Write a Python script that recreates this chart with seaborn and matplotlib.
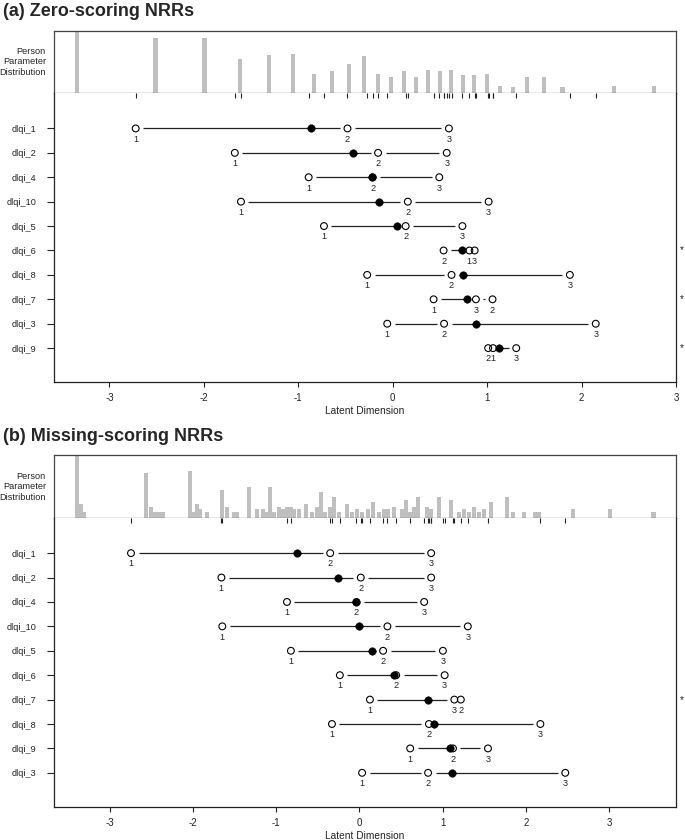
import numpy as np
import pandas as pd
import matplotlib
matplotlib.use("Agg")
import matplotlib.pyplot as plt
import seaborn as sns

sns.set_theme(style="white")
plt.rcParams['font.family'] = ['Liberation Sans', 'DejaVu Sans']

# ---------------- data: (a) zero-scoring ----------------
items_a = ['dlqi_1', 'dlqi_2', 'dlqi_4', 'dlqi_10', 'dlqi_5', 'dlqi_6', 'dlqi_8', 'dlqi_7', 'dlqi_3', 'dlqi_9']
thr1_a = [-2.722, -1.672, -0.890, -1.607, -0.728, 0.812, -0.270, 0.433, -0.058, 1.062]
thr2_a = [-0.479, -0.155, -0.212, 0.160, 0.137, 0.539, 0.623, 1.057, 0.544, 1.011]
thr3_a = [0.595, 0.572, 0.493, 1.016, 0.738, 0.868, 1.876, 0.881, 2.150, 1.308]
loc_a = [-0.869, -0.418, -0.218, -0.144, 0.049, 0.733, 0.743, 0.790, 0.879, 1.127]
disordered_a = ['dlqi_6', 'dlqi_7', 'dlqi_9']

hist_x_a = [-3.344, -2.512, -1.993, -1.612, -1.308, -1.054, -0.834, -0.641, -0.468, -0.309,
            -0.157, -0.019, 0.119, 0.249, 0.373, 0.496, 0.620, 0.743, 0.866, 0.998,
            1.131, 1.273, 1.427, 1.601, 1.798, 2.342, 2.766]
hist_n_a = [51, 45, 45, 28, 31, 32, 16, 18, 24, 30,
            16, 13, 18, 13, 19, 18, 19, 15, 15, 16,
            6, 5, 13, 13, 5, 6, 6]

# ---------------- data: (b) missing-scoring ----------------
items_b = ['dlqi_1', 'dlqi_2', 'dlqi_4', 'dlqi_10', 'dlqi_5', 'dlqi_6', 'dlqi_7', 'dlqi_8', 'dlqi_9', 'dlqi_3']
thr1_b = [-2.742, -1.657, -0.870, -1.646, -0.823, -0.235, 0.126, -0.330, 0.609, 0.032]
thr2_b = [-0.351, 0.016, -0.036, 0.336, 0.284, 0.441, 1.217, 0.834, 1.123, 0.824]
thr3_b = [0.861, 0.861, 0.777, 1.301, 1.002, 1.023, 1.139, 2.172, 1.543, 2.471]
loc_b = [-0.744, -0.262, -0.040, 0.000, 0.153, 0.415, 0.824, 0.892, 1.091, 1.107]
disordered_b = ['dlqi_7']

hist_x_b = [-3.39, -3.34, -3.31, -2.56, -2.50, -2.46, -2.41, -2.36, -2.035, -2.00,
            -1.955, -1.915, -1.83, -1.645, -1.59, -1.51, -1.47, -1.33, -1.23, -1.16,
            -1.12, -1.075, -1.02, -0.96, -0.915, -0.87, -0.82, -0.785, -0.72, -0.64,
            -0.57, -0.51, -0.46, -0.41, -0.355, -0.30, -0.245, -0.145, -0.085, -0.03,
            0.025, 0.105, 0.16, 0.24, 0.295, 0.34, 0.415, 0.51, 0.56, 0.61,
            0.655, 0.70, 0.81, 0.855, 0.96, 1.105, 1.19, 1.25, 1.315, 1.375,
            1.44, 1.49, 1.58, 1.77, 1.84, 1.98, 2.11, 2.155, 2.56, 3.005, 3.53]
hist_n_b = [51, 11, 5, 37, 9, 5, 5, 5, 38, 5,
            11, 7, 5, 23, 9, 5, 5, 25, 7, 7,
            5, 25, 5, 9, 7, 9, 9, 7, 7, 11,
            5, 9, 21, 5, 9, 17, 5, 11, 5, 7,
            5, 7, 13, 5, 7, 7, 9, 7, 15, 5,
            9, 17, 9, 7, 17, 15, 5, 7, 5, 9,
            5, 7, 13, 17, 5, 5, 5, 5, 7, 7, 5]

x_ticks = [-3, -2, -1, 0, 1, 2, 3]

W, H = 685, 840
LINE = '#222222'
GAP_PX = 7.5   # gap left around open circles (like R type="b")


def px_box(left, top, right, bottom):
    return [left / W, 1 - bottom / H, (right - left) / W, (bottom - top) / H]


def draw_panel(fig, off, title, items, t1, t2, t3, loc, disordered, hx, hn, xlim):
    left, right = 53.7, 676
    fig.text(3 / W, 1 - (12 + off) / H, title, fontsize=13, fontweight='bold',
             ha='left', va='center')

    # ---- person parameter histogram ----
    axh = fig.add_axes(px_box(left, 30.7 + off, right, 93.3 + off))
    bw = (xlim[1] - xlim[0]) / 155
    axh.bar(hx, hn, width=bw, color='#bfbfbf', linewidth=0)
    axh.set_xlim(xlim)
    axh.set_ylim(0, max(hn))
    axh.set_xticks([])
    axh.set_yticks([])
    for s in axh.spines.values():
        s.set_color('#444444')
        s.set_linewidth(0.9)
    axh.text(-0.0125, 0.5, 'Person\nParameter\nDistribution', transform=axh.transAxes,
             ha='right', va='center', fontsize=6.6, linespacing=1.2, color='#222222')

    # ---- item map ----
    ax = fig.add_axes(px_box(left, 93.3 + off, right, 382.3 + off))
    ax.set_xlim(xlim)
    ax.set_ylim(len(items) + 1.40, 1 - 1.44)
    ypos = np.arange(1, len(items) + 1)
    thr = np.column_stack([t1, t2, t3])

    ppu = ax.transData.transform([(1, 1)])[0, 0] - ax.transData.transform([(0, 1)])[0, 0]
    gap = GAP_PX / ppu
    x0s, x1s, ys = [], [], []
    for i, y in enumerate(ypos):
        pts = sorted([(v, True) for v in thr[i]] + [(loc[i], False)])
        for (xa, oa), (xb, ob) in zip(pts[:-1], pts[1:]):
            a = xa + (gap if oa else 0)
            b = xb - (gap if ob else 0)
            if (b - a) * ppu > 0.8:
                x0s.append(a)
                x1s.append(b)
                ys.append(y)
    ax.hlines(ys, x0s, x1s, color=LINE, lw=0.9, zorder=1)

    df = pd.DataFrame({'thr': thr.ravel(), 'y': np.repeat(ypos, 3),
                       'cat': np.tile(['1', '2', '3'], len(items))})
    sns.scatterplot(data=df, x='thr', y='y', s=24, marker='o', fc='none', ec='black',
                    linewidth=0.8, ax=ax, zorder=3, legend=False)
    sns.scatterplot(x=loc, y=ypos, s=30, color='black', ec='black', linewidth=0.3,
                    ax=ax, zorder=4, legend=False)
    for _, r in df.iterrows():
        ax.text(r['thr'], r['y'] + 0.44, r['cat'], ha='center', va='center',
                fontsize=6.6, color='#222222')

    for it, y in zip(items, ypos):
        if it in disordered:
            ax.text(1.006, y, '*', transform=ax.get_yaxis_transform(), ha='left',
                    va='center', fontsize=7, color='#222222', clip_on=False)

    # rug of thresholds under the histogram
    ax.vlines(thr.ravel(), 1, 1 - 5 / 289, transform=ax.get_xaxis_transform(),
              color=LINE, lw=0.8)

    ax.set_yticks(ypos)
    ax.set_yticklabels(items)
    ax.set_xticks(x_ticks)
    ax.set_xticklabels([str(t) for t in x_ticks])
    ax.tick_params(axis='y', direction='out', length=5.4, width=0.8, pad=7,
                   labelsize=6.6, left=True, colors='#222222')
    ax.tick_params(axis='x', direction='out', length=3.3, width=0.8, pad=4.5,
                   labelsize=7, bottom=True, colors='#222222')
    ax.set_xlabel('Latent Dimension', fontsize=7.3, labelpad=2, color='#222222')
    ax.set_ylabel('')
    ax.spines['top'].set_visible(False)
    for k in ['left', 'bottom', 'right']:
        ax.spines[k].set_color('#222222')
        ax.spines[k].set_linewidth(0.9)
    ax.grid(False)


fig = plt.figure(figsize=(W / 100, H / 100), dpi=100)
draw_panel(fig, 0, '(a) Zero-scoring NRRs', items_a, thr1_a, thr2_a, thr3_a, loc_a,
           disordered_a, hist_x_a, hist_n_a, (-3.59, 3.0))
draw_panel(fig, 424.7, '(b) Missing-scoring NRRs', items_b, thr1_b, thr2_b, thr3_b, loc_b,
           disordered_b, hist_x_b, hist_n_b, (-3.67, 3.80))
fig.savefig('out.png', dpi=100)
